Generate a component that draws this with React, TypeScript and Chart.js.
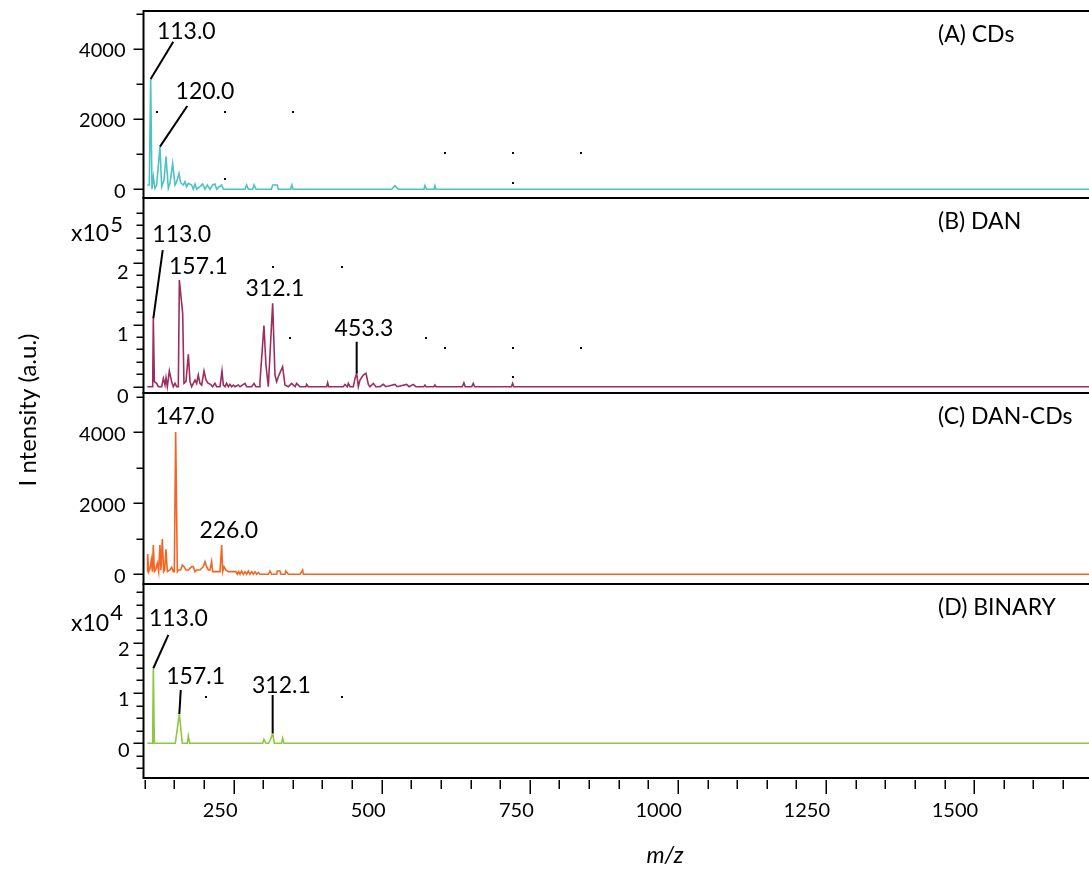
import React, { useEffect, useRef } from 'react';
import { Chart, registerables } from 'chart.js';

Chart.register(...registerables);

// ---------------- data ----------------
const mzMin = 98;
const mzMax = 1704;
const xMajorTicks = [250, 500, 750, 1000, 1250, 1500];
const xTickLabels = ['250', '500', '750', '1000', '1250', '1500'];
const xMinorTicks = [100, 150, 200, 250, 300, 350, 400, 450, 500, 550, 600, 650, 700, 750, 800, 850, 900, 950, 1000, 1050, 1100, 1150, 1200, 1250, 1300, 1350, 1400, 1450, 1500, 1550, 1600, 1650, 1700];

const panelTitles = ['(A) CDs', '(B) DAN', '(C) DAN-CDs', '(D) BINARY'];
const yAxisTitle = 'I ntensity (a.u.)';
const xAxisTitle = 'm/z';

// (A) CDs  [m/z, intensity]
const cdsSpectrum: [number, number][] = [
  [104.5, 120], [107.8, 120], [110.1, 3141], [112.3, 0], [114.6, 356], [117.4, 25], [120.2, 120], [125.8, 1212],
  [128.7, 72], [132.6, 262], [136, 927], [139.9, 25], [142.7, 167], [147.2, 737], [151.2, 120], [154, 214],
  [157.9, 452], [160.7, 186], [165.2, 120], [168, 214], [170.8, 72], [173.7, 167], [179.3, 120], [182.1, 0],
  [185, 148], [187.7, 0], [193.3, 72], [197.8, 148], [201.8, 0], [205.7, 120], [210.2, 0], [214.7, 120],
  [218.6, 148], [221.5, 0], [226, 72], [229.9, 120], [232.7, 0], [269.3, 0], [272, 120], [274.9, 0],
  [282.2, 0], [284.5, 120], [287.9, 0], [313.8, 0], [316, 120], [323.8, 120], [325.5, 0], [346.2, 0],
  [348.5, 120], [350.2, 0], [516.8, 0], [522.4, 100], [528, 0], [571.4, 0], [573, 100], [575.6, 0],
  [588.2, 0], [589.9, 100], [591.6, 0], [1704, 0],
];
const cdsYTicks = [0, 2000, 4000];
const cdsYTickLabels = ['0', '2000', '4000'];
const cdsYMinorTicks = [0, 1000, 2000, 3000, 4000, 5000];
const cdsPeakLabels = ['113.0', '120.0'];
const cdsPeaks: [number, number][] = [[110.1, 3141], [125.8, 1212]];
const cdsDots: [number, number][] = [[120.3, 2209], [235.5, 2209], [350.8, 2209], [606.8, 1023], [721, 1023], [835.8, 1023], [235.5, 282], [721, 185]];

// (B) DAN
const danSpectrum: [number, number][] = [
  [104.5, 0], [113.5, 0], [114.6, 110200], [116.3, 8064], [120.2, 5376], [123, 0], [128.7, 0], [131.5, 13440],
  [134.3, 2688], [136, 14515], [138.2, 0], [141.6, 25267], [145.5, 8064], [148.3, 0], [151.2, 5376], [154, 0],
  [156.8, 0], [158.5, 172032], [164.1, 118272], [166.3, 5376], [169.7, 8064], [173.7, 52147], [176.5, 8064], [179.3, 0],
  [182.1, 5376], [185, 10752], [187.7, 5376], [190.5, 18816], [193.3, 5376], [196.2, 2688], [200.1, 25267], [203.5, 10752],
  [207.4, 5376], [211.3, 3763], [214.7, 0], [218.6, 5376], [221.5, 0], [227.1, 0], [230.5, 25267], [232.7, 2688],
  [235.5, 0], [238.3, 5376], [241.2, 0], [244, 3763], [246.8, 0], [249.6, 2688], [252.4, 0], [258, 2688],
  [260.9, 0], [269.3, 5376], [272.1, 0], [280.5, 0], [284.5, 5376], [287.8, 0], [293.5, 0], [294.6, 8064],
  [301.3, 98784], [304.7, 34944], [308.7, 0], [312.6, 72576], [316, 134400], [319.9, 18816], [322.7, 8064], [325.5, 16128],
  [332.8, 32256], [336.8, 2688], [342.4, 0], [348, 5376], [353.7, 0], [356.5, 5376], [362.1, 0], [372.2, 0],
  [373.3, 3763], [376.2, 0], [407.1, 0], [408.8, 6451], [410.5, 0], [435.3, 0], [438.1, 3763], [442, 0],
  [443.7, 5376], [446.5, 0], [452.1, 0], [455, 13440], [457.8, 21504], [460.6, 0], [463.4, 10752], [469, 18816],
  [473.5, 21504], [477.5, 3763], [480.3, 0], [485.9, 5376], [490.3, 0], [497.1, 0], [502.7, 3763], [507.2, 0],
  [522.4, 3763], [526.3, 0], [542, 3763], [546.5, 0], [553.3, 3763], [557.8, 0], [571, 0], [573, 2688],
  [575, 0], [588, 0], [589.9, 2688], [591.6, 0], [636, 0], [638.8, 6450], [641, 0], [652, 0],
  [654.6, 5376], [657, 0], [719, 0], [721, 5376], [723, 0], [1704, 0],
];
const danYTicks = [0, 100000, 200000];
const danYTickLabels = ['0', '1', '2'];
const danYMinorTicks = [0, 20000, 40000, 60000, 80000, 100000, 120000, 140000, 160000, 180000, 200000, 220000, 240000, 260000, 280000];
const danExponent = '5';
const danPeakLabels = ['113.0', '157.1', '312.1', '453.3'];
const danPeaks: [number, number][] = [[114.6, 110200], [158.5, 172032], [316, 134400], [457.8, 21504]];
const danDots: [number, number][] = [[317, 193548], [432.5, 193548], [345.2, 77742], [574.2, 77742], [606.8, 62580], [721, 62580], [835.8, 62580], [721, 16129]];

// (C) DAN-CDs
const dancdsSpectrum: [number, number][] = [
  [104.5, 75], [105, 573], [106.7, 75], [109, 169], [111.2, 404], [112.9, 75], [114.6, 826], [116.3, 75],
  [118.5, 122], [121.3, 310], [123.6, 75], [125.8, 826], [127.5, 122], [129.8, 995], [132, 75], [133.7, 122],
  [136, 704], [138.2, 75], [142.7, 122], [145.5, 197], [148.3, 75], [150, 75], [152.3, 4010], [155.1, 75],
  [157.3, 122], [160.7, 122], [163.5, 263], [166.3, 216], [169.7, 122], [173.7, 122], [179.3, 216], [182.1, 216],
  [185, 75], [187.7, 122], [193.3, 122], [199, 216], [201.8, 357], [204.6, 216], [207.4, 122], [210.2, 122],
  [213, 357], [214.7, 75], [221.5, 75], [227.1, 75], [230, 826], [231.6, 75], [233.9, 216], [236.7, 122],
  [241.2, 75], [254.1, 75], [256.4, 0], [258.6, 75], [260.9, 0], [263.7, 94], [266.5, 0], [269.3, 75],
  [272.1, 0], [274.9, 94], [277.7, 0], [280.5, 75], [283.4, 0], [286.2, 75], [289, 0], [291.8, 50],
  [294.6, 0], [308.7, 0], [311.5, 94], [314.3, 0], [322.7, 0], [323.8, 94], [328.3, 94], [330, 0],
  [336.8, 0], [338.4, 94], [342.4, 0], [362.1, 0], [366.6, 122], [367.7, 0], [1704, 0],
];
const dancdsYTicks = [0, 2000, 4000];
const dancdsYTickLabels = ['0', '2000', '4000'];
const dancdsYMinorTicks = [0, 1000, 2000, 3000, 4000, 5000];
const dancdsPeakLabels = ['147.0', '226.0'];
const dancdsPeaks: [number, number][] = [[152.3, 4010], [230, 826]];
const dancdsDots: [number, number][] = [];

// (D) BINARY
const binarySpectrum: [number, number][] = [
  [104.5, 0], [113.5, 0], [114.6, 14918], [116.3, 0], [151.7, 0], [158.5, 5834], [163.5, 0], [172, 0],
  [173.7, 1459], [175.9, 0], [299.1, 0], [301.3, 800], [304.7, 0], [309.2, 0], [312.6, 800], [316, 1989],
  [318.8, 0], [331.2, 0], [332.8, 1000], [335.1, 0], [1704, 0],
];
const binaryYTicks = [0, 10000, 20000];
const binaryYTickLabels = ['0', '1', '2'];
const binaryYMinorTicks = [-5000, -2500, 0, 2500, 5000, 7500, 10000, 12500, 15000, 17500, 20000, 22500, 25000, 27500, 30000];
const binaryExponent = '4';
const binaryPeakLabels = ['113.0', '157.1', '312.1'];
const binaryPeaks: [number, number][] = [[114.6, 14918], [158.5, 5834], [316, 1989]];
const binaryDots: [number, number][] = [[203.5, 9145], [432.5, 9145]];

// ---------------- styles ----------------
const FONT = 'Lato, "Open Sans", sans-serif';
type PeakStyle = { lead: number[] | null; label: number[] };

const panels = [
  {
    id: 'yA', title: panelTitles[0], spectrum: cdsSpectrum, color: 'rgb(77,194,197)',
    weight: 187, min: -251, max: 5080, ticks: cdsYTicks, tickLabels: cdsYTickLabels, minor: cdsYMinorTicks,
    labelOffset: 2, labelPadding: 18, exponent: null as string | null, expPos: [0, 0, 0],
    peakLabels: cdsPeakLabels, peaks: cdsPeaks,
    peakStyle: [
      { lead: [0, 0, 22.6, -37.3], label: [35.6, -47.7] },
      { lead: [0, 0, 27.3, -40.7], label: [45, -55] },
    ] as PeakStyle[],
    dots: cdsDots,
  },
  {
    id: 'yB', title: panelTitles[1], spectrum: danSpectrum, color: 'rgb(155,45,95)',
    weight: 195, min: -10160, max: 304350, ticks: danYTicks, tickLabels: danYTickLabels, minor: danYMinorTicks,
    labelOffset: 10, labelPadding: 15, exponent: danExponent, expPos: [71, 241, 232],
    peakLabels: danPeakLabels, peaks: danPeaks,
    peakStyle: [
      { lead: [0, 0, 9.4, -68.3], label: [28.4, -83.3] },
      { lead: null, label: [19, -13.3] },
      { lead: null, label: [2.3, -15] },
      { lead: [0, 0, 0, -31.6], label: [7.3, -44.5] },
    ] as PeakStyle[],
    dots: danDots,
  },
  {
    id: 'yC', title: panelTitles[2], spectrum: dancdsSpectrum, color: 'rgb(242,101,34)',
    weight: 191, min: -273, max: 5107, ticks: dancdsYTicks, tickLabels: dancdsYTickLabels, minor: dancdsYMinorTicks,
    labelOffset: 2, labelPadding: 18, exponent: null as string | null, expPos: [0, 0, 0],
    peakLabels: dancdsPeakLabels, peaks: dancdsPeaks,
    peakStyle: [
      { lead: null, label: [9.3, -15.3] },
      { lead: null, label: [7.1, -14.2] },
    ] as PeakStyle[],
    dots: dancdsDots,
  },
  {
    id: 'yD', title: panelTitles[3], spectrum: binarySpectrum, color: 'rgb(141,198,63)',
    weight: 194, min: -6899, max: 31670, ticks: binaryYTicks, tickLabels: binaryYTickLabels, minor: binaryYMinorTicks,
    labelOffset: 7, labelPadding: 14, exponent: binaryExponent, expPos: [71, 631, 620],
    peakLabels: binaryPeakLabels, peaks: binaryPeaks,
    peakStyle: [
      { lead: [0, 0, 15, -33.3], label: [25, -49.3] },
      { lead: [0, 0, 1.4, -24], label: [16.3, -37] },
      { lead: [0, 0, 0, -38.3], label: [8.7, -47.3] },
    ] as PeakStyle[],
    dots: binaryDots,
  },
];

const line = (ctx: CanvasRenderingContext2D, x1: number, y1: number, x2: number, y2: number) => {
  ctx.beginPath();
  ctx.moveTo(x1, y1);
  ctx.lineTo(x2, y2);
  ctx.stroke();
};

const decorPlugin = {
  id: 'decor',
  afterDraw(chart: any) {
    const ctx: CanvasRenderingContext2D = chart.ctx;
    const area = chart.chartArea;
    const xs = chart.scales.x;
    ctx.save();
    ctx.strokeStyle = '#000';
    ctx.fillStyle = '#000';

    panels.forEach((p) => {
      const ys = chart.scales[p.id];
      // border
      ctx.lineWidth = 2;
      ctx.strokeRect(area.left, ys.top, area.right - area.left, ys.bottom - ys.top);
      // y ticks
      ctx.lineWidth = 1.5;
      p.minor.forEach((v) => {
        const y = Math.round(ys.getPixelForValue(v)) + 0.25;
        const len = p.ticks.includes(v) ? 10 : 7;
        line(ctx, area.left - len, y, area.left, y);
      });
      // exponent
      if (p.exponent) {
        ctx.font = `23px ${FONT}`;
        ctx.textAlign = 'left';
        ctx.textBaseline = 'alphabetic';
        ctx.fillText('x10', p.expPos[0], p.expPos[1]);
        const w = ctx.measureText('x10').width;
        ctx.font = `22px ${FONT}`;
        ctx.fillText(p.exponent, p.expPos[0] + w + 1, p.expPos[2]);
      }
      // title
      ctx.font = `23px ${FONT}`;
      ctx.textAlign = 'left';
      ctx.textBaseline = 'middle';
      ctx.fillText(p.title, 938, ys.top + 24);
      // peak annotations
      p.peakLabels.forEach((txt, i) => {
        const px = xs.getPixelForValue(p.peaks[i][0]);
        const py = ys.getPixelForValue(p.peaks[i][1]);
        const st = p.peakStyle[i];
        if (st.lead) {
          ctx.lineWidth = 2;
          line(ctx, px + st.lead[0], py + st.lead[1], px + st.lead[2], py + st.lead[3]);
        }
        ctx.font = `23px ${FONT}`;
        ctx.textAlign = 'center';
        ctx.textBaseline = 'middle';
        ctx.fillText(txt, px + st.label[0], py + st.label[1]);
      });
      // small marks
      p.dots.forEach((d) => {
        const dx = xs.getPixelForValue(d[0]);
        const dy = ys.getPixelForValue(d[1]);
        ctx.fillRect(Math.round(dx) - 1, Math.round(dy) - 1, 2, 2);
      });
    });

    // x ticks
    ctx.lineWidth = 1.5;
    xMinorTicks.forEach((v) => {
      const x = Math.round(xs.getPixelForValue(v)) + 0.25;
      if (x < area.left - 1) return;
      const len = xMajorTicks.includes(v) ? 14 : 9;
      line(ctx, x, area.bottom + 2, x, area.bottom + 2 + len);
    });

    // axis titles
    ctx.font = `italic 23px ${FONT}`;
    ctx.textAlign = 'center';
    ctx.textBaseline = 'middle';
    ctx.fillText(xAxisTitle, 665, 856);

    ctx.save();
    ctx.translate(28, 410);
    ctx.rotate(-Math.PI / 2);
    ctx.font = `24px ${FONT}`;
    ctx.fillText(yAxisTitle, 0, 0);
    ctx.restore();

    ctx.restore();
  },
};

function buildConfig(): any {
  const scales: any = {
    x: {
      type: 'linear',
      position: 'bottom',
      min: mzMin,
      max: mzMax,
      grid: { display: false, drawTicks: false },
      border: { display: false },
      afterBuildTicks: (s: any) => {
        s.ticks = xMajorTicks.map((v) => ({ value: v }));
      },
      afterFit: (s: any) => {
        s.height = 91;
        s.paddingLeft = 0;
        s.paddingRight = 0;
        s.paddingTop = 0;
        s.paddingBottom = 0;
      },
      ticks: {
        autoSkip: false,
        maxRotation: 0,
        minRotation: 0,
        align: 'end',
        labelOffset: 4,
        padding: 21,
        color: '#000',
        font: { family: FONT, size: 20 },
        callback: (_v: any, i: number) => xTickLabels[i],
      },
    },
  };
  // last defined goes on top of the stack
  [...panels].reverse().forEach((p) => {
    scales[p.id] = {
      type: 'linear',
      position: 'left',
      stack: 'panels',
      stackWeight: p.weight,
      min: p.min,
      max: p.max,
      offset: false,
      grid: { display: false, drawTicks: false },
      border: { display: false },
      afterBuildTicks: (s: any) => {
        s.ticks = p.ticks.map((v) => ({ value: v }));
      },
      afterFit: (s: any) => {
        s.width = 143.5;
        s.paddingLeft = 0;
        s.paddingRight = 0;
        s.paddingTop = 0;
        s.paddingBottom = 0;
      },
      ticks: {
        autoSkip: false,
        padding: p.labelPadding,
        labelOffset: p.labelOffset,
        color: '#000',
        font: { family: FONT, size: 20 },
        callback: (_v: any, i: number) => p.tickLabels[i],
      },
    };
  });

  return {
    type: 'line',
    data: {
      datasets: panels.map((p) => ({
        label: p.title,
        data: p.spectrum.map((d) => ({ x: d[0], y: d[1] })),
        borderColor: p.color,
        backgroundColor: p.color,
        borderWidth: 1.6,
        pointRadius: 0,
        tension: 0,
        fill: false,
        xAxisID: 'x',
        yAxisID: p.id,
      })),
    },
    options: {
      responsive: false,
      maintainAspectRatio: false,
      animation: false,
      events: [],
      layout: { padding: { top: 11, left: 0, right: 0, bottom: 0 } },
      plugins: { legend: { display: false }, tooltip: { enabled: false } },
      scales,
    },
    plugins: [decorPlugin],
  };
}

export default function App() {
  const ref = useRef<HTMLCanvasElement>(null);
  useEffect(() => {
    let chart: Chart | null = null;
    let cancelled = false;
    const make = () => {
      if (cancelled || !ref.current) return;
      chart = new Chart(ref.current, buildConfig());
    };
    Promise.all([
      document.fonts.load(`20px Lato`),
      document.fonts.load(`italic 23px Lato`),
    ]).then(make, make);
    return () => {
      cancelled = true;
      if (chart) chart.destroy();
    };
  }, []);
  return (
    <div style={{ position: 'absolute', left: 0, top: 0, width: 1089, height: 869, overflow: 'hidden', background: '#fff' }}>
      <canvas ref={ref} width={1095} height={869} style={{ display: 'block', width: 1095, height: 869 }} />
    </div>
  );
}
